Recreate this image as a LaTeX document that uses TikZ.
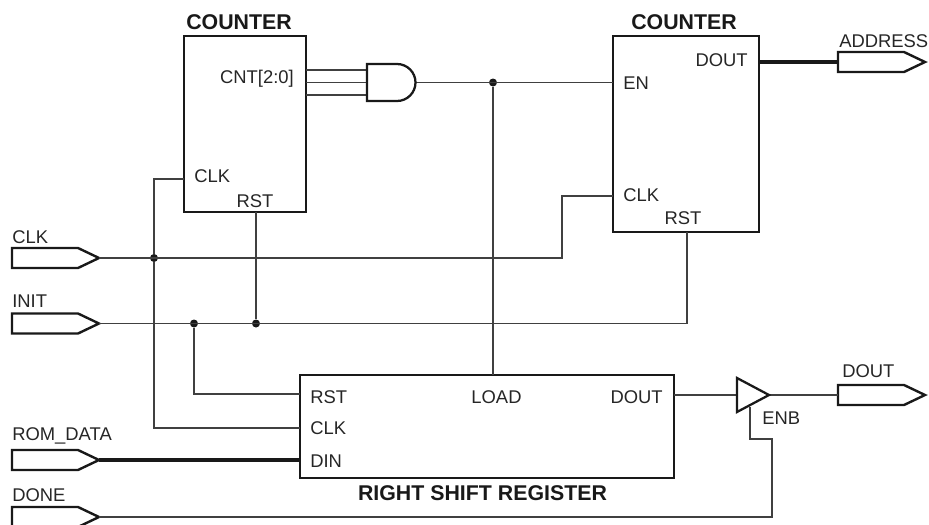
\documentclass[tikz,border=0pt]{standalone}
\usepackage{fontspec}
\setmainfont{Liberation Sans}
\usetikzlibrary{calc,positioning}
\tikzset{>=latex}
\tikzstyle{block}  =[draw=black!90,line width=1.6pt,fill=white,outer sep=0pt,anchor=north west]
\tikzstyle{gate}   =[draw=black!90,line width=1.7pt,fill=white,line join=miter]
\tikzstyle{wire}   =[draw=black!75,line width=0.8pt]
\tikzstyle{bus}    =[draw=black!90,line width=2.4pt]
\tikzstyle{port}   =[draw=black!90,line width=1.8pt,fill=white,line join=miter]
\tikzstyle{junct}  =[circle,fill=black!90,inner sep=0pt,minimum size=6pt]
\tikzstyle{lbl}    =[inner sep=0pt,font=\fontsize{13.8}{16}\selectfont,text=black!85]
\tikzstyle{title}  =[inner sep=0pt,font=\fontsize{16}{18}\selectfont\bfseries,text=black!90]
% #1 name, #2 left x, #3 centre y; (#1) is the tip of the arrow shape
\newcommand\portshape[3]{
  \draw[port] (#2,#3-10) -- ++(66,0) -- ++(21,10) -- ++(-21,10) -- ++(-66,0) -- cycle;
  \coordinate (#1) at (#2+87,#3);
}
\begin{document}
\begin{tikzpicture}[x=0.75pt,y=-0.75pt]
  \useasboundingbox (0,0) rectangle (929,525);

  % Blocks
  \node[block,minimum width=91.5pt,minimum height=132pt] (cntA) at (184,36) {};
  \node[block,minimum width=109.5pt,minimum height=147pt] (cntB) at (613,36) {};
  \node[block,minimum width=280.5pt,minimum height=77.25pt] (shift) at (300,375) {};

  % Pins on the blocks
  \coordinate (andOut)  at (414,82.5);
  \coordinate (enPin)   at (cntB.west |- andOut);
  \coordinate (loadPin) at (493,375);
  \coordinate (clkA)    at (cntA.west |- 0,179);
  \coordinate (clkB)    at (cntB.west |- 0,196);
  \coordinate (rstB)    at (687,232);
  \coordinate (clkS)    at (shift.west |- 0,428);
  \coordinate (rstS)    at (shift.west |- 0,394);
  \coordinate (dinS)    at (shift.west |- 0,460);
  \coordinate (doutS)   at (shift.east |- 0,395);
  \coordinate (addrOut) at (cntB.east |- 0,62);

  % Ports
  \portshape{portClk}{12}{258}
  \portshape{portInit}{12}{323.5}
  \portshape{portRom}{12}{460}
  \portshape{portDone}{12}{517}
  \portshape{portAddr}{838}{62}
  \portshape{portDout}{838}{395}
  \coordinate (addrIn) at (838,62);
  \coordinate (doutIn) at (838,395);

  \node[junct] (dotEn)   at (493,82.5) {};
  \node[junct] (dotClk)  at (154,258) {};
  \node[junct] (dotInit) at (194,323.5) {};
  \node[junct] (dotRst)  at (256,323.5) {};

  % Wires
  \draw[wire] (andOut) -- (enPin);
  \draw[wire] (dotEn) -- (loadPin);
  \draw[wire] (portClk) -- (562,258) |- (clkB);
  \draw[wire] (clkA) -| (dotClk);
  \draw[wire] (dotClk) |- (clkS);
  \draw[wire] (portInit) -| (rstB);
  \draw[wire] (dotRst) -- (dotRst |- cntA.south);
  \draw[wire] (dotInit) |- (rstS);
  \draw[bus]  (portRom) -- (dinS);
  \draw[bus]  (addrOut) -- (addrIn);
  \draw[wire] (doutS) -- (737,395);
  \draw[wire] (769,395) -- (doutIn);
  \draw[wire] (portDone) -| (772,439) -| (750,407);
  \foreach \y in {70,82.5,95}
    \draw[wire] (cntA.east |- 0,\y) -- (367,\y);

  % Gates
  \draw[gate] (367,64) -- (397,64) arc(-90:90:18.5) -- (367,101) -- cycle;
  \draw[gate] (737,378) -- (769,395) -- (737,412) -- cycle;

  % Labels
  \node[title] (cntAname) at (239,22) {COUNTER};
  \node[title] (cntBname) at (684,22) {COUNTER};
  \node[title] (shiftname) at (482.5,493) {RIGHT SHIFT REGISTER};
  \node[lbl,anchor=east] (cntApin) at (294,79) {CNT[2:0]};
  \node[lbl,anchor=west] (clkAlbl) at (194,176) {CLK};
  \node[lbl] (rstAlbl) at (255,201) {RST};
  \node[lbl,anchor=east] (doutBlbl) at (748,60) {DOUT};
  \node[lbl,anchor=west] (enlbl) at (623,83) {EN};
  \node[lbl,anchor=west] (clkBlbl) at (623,195) {CLK};
  \node[lbl] (rstBlbl) at (683,218) {RST};
  \node[lbl,anchor=west] (rstSlbl) at (310,397) {RST};
  \node[lbl,anchor=west] (clkSlbl) at (310,428) {CLK};
  \node[lbl,anchor=west] (dinSlbl) at (310,461) {DIN};
  \node[lbl] (loadlbl) at (496.5,397) {LOAD};
  \node[lbl,anchor=east] (doutSlbl) at (663,397) {DOUT};
  \node[lbl,anchor=west] (enblbl) at (762,418) {ENB};
  \node[lbl,anchor=west] (clklbl) at (12,237) {CLK};
  \node[lbl,anchor=west] (initlbl) at (12,301) {INIT};
  \node[lbl,anchor=west] (romlbl) at (12,436) {ROM\_DATA};
  \node[lbl,anchor=west] (donelbl) at (12,495) {DONE};
  \node[lbl,anchor=west] (addrlbl) at (839,41) {ADDRESS};
  \node[lbl,anchor=west] (doutlbl) at (842,371) {DOUT};
\end{tikzpicture}
\end{document}
